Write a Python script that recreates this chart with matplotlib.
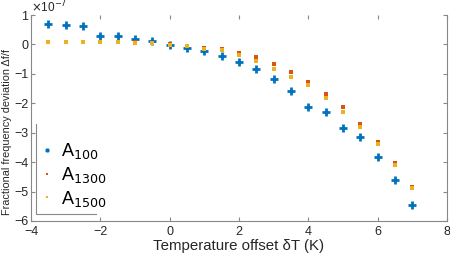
import numpy as np
import matplotlib
matplotlib.use('Agg')
import matplotlib.pyplot as plt

# temperature offsets (K)
dT = [-3.5, -3, -2.5, -2, -1.5, -1, -0.5, 0, 0.5, 1, 1.5, 2, 2.5, 3, 3.5,
      4, 4.5, 5, 5.5, 6, 6.5, 7]
# fractional frequency deviation, units of 1e-7
a100 = [0.68, 0.65, 0.62, 0.30, 0.27, 0.19, 0.10, -0.01, -0.11, -0.21, -0.38,
        -0.60, -0.84, -1.19, -1.59, -2.12, -2.29, -2.84, -3.16, -3.81, -4.61, -5.47]
a1300 = [0.08, 0.08, 0.08, 0.08, 0.08, 0.07, 0.05, 0.0, -0.06, -0.13, -0.16,
         -0.29, -0.43, -0.65, -0.94, -1.29, -1.68, -2.14, -2.72, -3.31, -4.04, -4.85]
a1500 = [0.07, 0.07, 0.07, 0.07, 0.07, 0.06, 0.04, -0.01, -0.07, -0.16, -0.20,
         -0.37, -0.58, -0.82, -1.10, -1.39, -1.81, -2.28, -2.80, -3.39, -4.11, -4.87]

plt.rcParams['font.family'] = ['Liberation Sans', 'DejaVu Sans']
fig = plt.figure(figsize=(4.5, 2.59), dpi=100)
ax = fig.add_axes([0.069, 0.147, 0.924, 0.795])

h1, = ax.plot(dT, a100, '+', color='#0072BD', ms=5.5, mew=2.0, label='A$_{100}$')
h2, = ax.plot(dT, a1300, 's', color='#D95319', ms=3.4, mew=0, label='A$_{1300}$')
h3, = ax.plot(dT, a1500, 's', color='#EDB120', ms=3.4, mew=0, label='A$_{1500}$')

ax.set_xlim(-4, 8)
ax.set_ylim(-6, 1)
ax.set_xticks(np.arange(-4, 9, 2))
ax.set_yticks(np.arange(-6, 2, 1))
ax.tick_params(direction='in', length=3, width=0.8, colors='#888888',
               labelcolor='#262626', labelsize=9, top=True, right=True)
ax.tick_params(axis='y', pad=2)
for s in ['left', 'bottom', 'right']:
    ax.spines[s].set_color('#888888')
ax.spines['top'].set_visible(False)

ax.set_xlabel('Temperature offset δT (K)', fontsize=10.8, color='#262626', labelpad=1)
ax.set_ylabel('Fractional frequency deviation Δf/f', fontsize=7.8,
              color='#262626')
ax.yaxis.set_label_coords(-0.045, 0.43)
fig.text(0.069, 0.972, '$\\times$10$^{-7}$', fontsize=8.5, color='#262626', va='center')

leg = ax.legend(handles=[h1, h2, h3], loc='lower left', bbox_to_anchor=(0.008, 0.025),
                frameon=False, fontsize=13, handlelength=0.6, handletextpad=0.5,
                markerscale=0.6, labelspacing=0.2, borderaxespad=0)
# left and bottom edge of legend box
ax.plot([0.012, 0.012, 0.156], [0.47, 0.035, 0.035], transform=ax.transAxes,
        color='#888888', lw=0.8, clip_on=False)

fig.savefig('out.png', dpi=100)
